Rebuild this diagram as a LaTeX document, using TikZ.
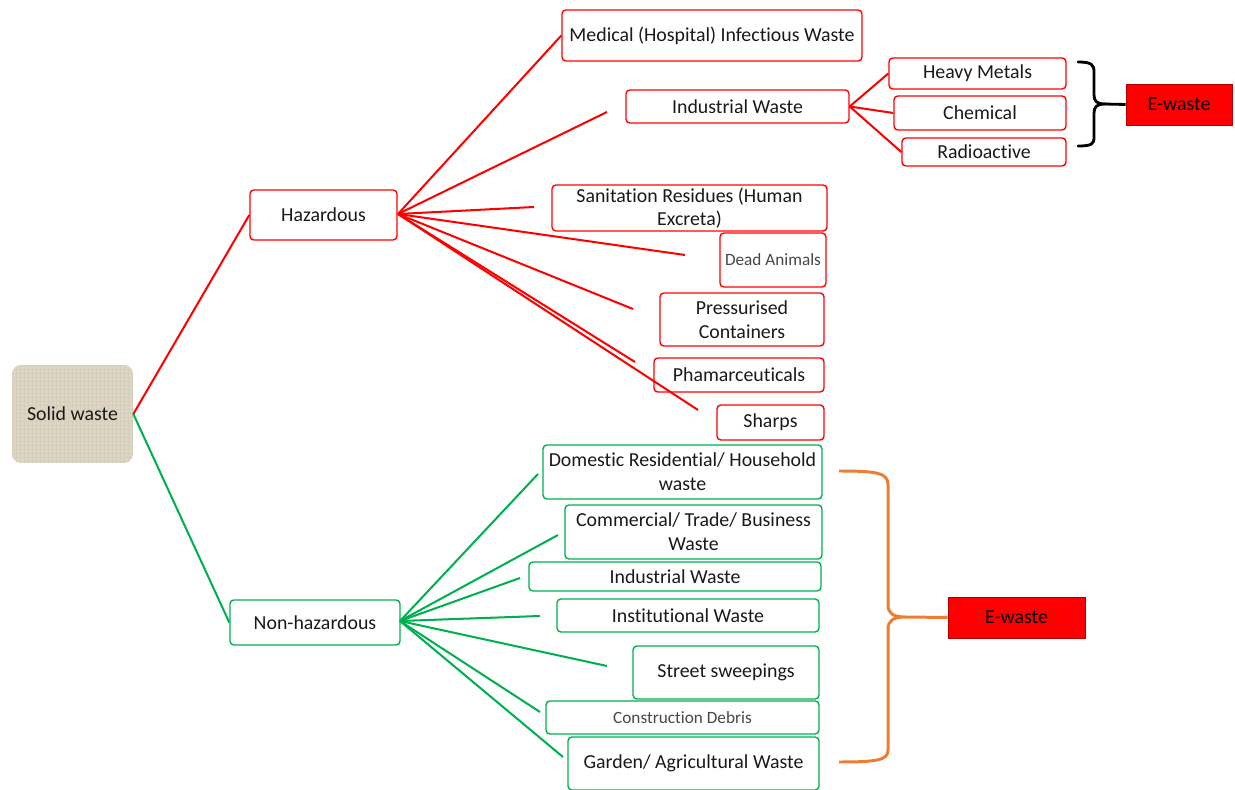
\documentclass[tikz,border=0pt]{standalone}
\usepackage{fontspec}
\setmainfont{Carlito}[Ligatures=NoCommon]
\definecolor{hred}{HTML}{FF0000}
\definecolor{ngreen}{HTML}{00B050}
\definecolor{borange}{HTML}{ED7D31}
\definecolor{beige}{HTML}{DDD6C5}
\definecolor{beigedark}{HTML}{CFC7B2}
\definecolor{txt}{HTML}{1A1A1A}
\begin{document}
\begin{tikzpicture}[x=0.02cm,y=-0.02cm,
  every node/.style={font=\fontsize{11.3}{13.5}\selectfont, text=txt, inner sep=1pt, align=center},
  box/.style={draw, rounded corners=2.2pt, line width=0.8pt, fill=white},
  hbox/.style={box, draw=hred},
  gbox/.style={box, draw=ngreen},
  small/.style={font=\fontsize{9.8}{12}\selectfont, text=black!72},
  ebox/.style={draw=hred!70!black, line width=0.4pt, fill=hred, text=black},
  hline/.style={draw=hred, line width=1.15pt},
  gline/.style={draw=ngreen, line width=1.15pt},
  bline/.style={draw=black, line width=1.6pt},
  oline/.style={draw=borange, line width=1.7pt},
  texture/.style={path picture={
     \foreach \i in {0,4,...,130} {
       \draw[beigedark, line width=0.3pt, opacity=0.45]
         ([xshift=\i*0.02cm]path picture bounding box.north west) -- ++(0,-2.2cm);
       \draw[beigedark, line width=0.3pt, opacity=0.45]
         ([yshift=-\i*0.02cm]path picture bounding box.north west) -- ++(2.6cm,0);
     }}}
]
\useasboundingbox (0,0) rectangle (1235,790);

% root
\node[fill=beige, texture, rounded corners=5pt, minimum width=2.42cm, minimum height=1.96cm] (solid) at (72.5,414) {Solid waste};
\node[hbox, minimum width=2.94cm, minimum height=1.0cm] (haz) at (323.5,215) {Hazardous};
\node[gbox, minimum width=3.4cm, minimum height=0.9cm] (nonhaz) at (315,622.5) {Non-hazardous};

% hazardous children
\node[hbox, minimum width=6.0cm, minimum height=1.02cm] (med) at (712,35.5) {Medical (Hospital) Infectious Waste};
\node[hbox, minimum width=4.46cm, minimum height=0.66cm] (indR) at (737.5,106.5) {Industrial Waste};
\node[hbox, minimum width=3.54cm, minimum height=0.62cm] (heavy) at (977.5,73.5) {Heavy Metals};
\node[hbox, minimum width=3.44cm, minimum height=0.68cm] (chem) at (980,113) {Chemical};
\node[hbox, minimum width=3.28cm, minimum height=0.56cm] (radio) at (984,152) {Radioactive};
\node[ebox, minimum width=2.12cm, minimum height=0.82cm] (ew1) at (1179,104.5) {E-waste};
\node[hbox, minimum width=5.5cm, minimum height=0.92cm] (sanit) at (689.5,208) {Sanitation Residues (Human\\Excreta)};
\node[hbox, small, minimum width=2.12cm, minimum height=1.08cm] (dead) at (773,260) {Dead Animals};
\node[hbox, minimum width=3.28cm, minimum height=1.06cm] (press) at (742,319.5) {Pressurised\\Containers};
\node[hbox, minimum width=3.4cm, minimum height=0.68cm] (pharma) at (739,375) {Phamarceuticals};
\node[hbox, minimum width=2.14cm, minimum height=0.7cm] (sharps) at (770.5,422.5) {Sharps};

% non-hazardous children
\node[gbox, minimum width=5.58cm, minimum height=1.08cm] (dom) at (682.5,472) {Domestic Residential/ Household\\waste};
\node[gbox, minimum width=5.14cm, minimum height=1.08cm] (com) at (693.5,532) {Commercial/ Trade/ Business\\Waste};
\node[gbox, minimum width=5.84cm, minimum height=0.58cm] (indG) at (675,576.5) {Industrial Waste};
\node[gbox, minimum width=5.24cm, minimum height=0.66cm] (inst) at (688,615.5) {Institutional Waste};
\node[gbox, minimum width=3.72cm, minimum height=1.06cm] (street) at (726,672.5) {Street sweepings};
\node[gbox, small, minimum width=5.46cm, minimum height=0.66cm] (constr) at (682.5,717.5) {Construction Debris};
\node[gbox, minimum width=5.02cm, minimum height=1.06cm] (garden) at (693.5,763.5) {Garden/ Agricultural Waste};
\node[ebox, minimum width=2.74cm, minimum height=0.82cm] (ew2) at (1016.5,617.5) {E-waste};

% free line ends
\coordinate (hIndR) at (607,112);
\coordinate (hSan) at (534,207);
\coordinate (hDead) at (685,255);
\coordinate (hPress) at (633,309);
\coordinate (hPharma) at (635,362);
\coordinate (hSharps) at (698,410);
\coordinate (nDom) at (538,474);
\coordinate (nCom) at (558,535);
\coordinate (nInd) at (520,578);
\coordinate (nInst) at (540,616);
\coordinate (nStreet) at (607,666);
\coordinate (nConstr) at (540,712);
\coordinate (nGarden) at (563,757);
\coordinate (hFan) at (398,214);
\coordinate (nFan) at (400,621);

% root connectors
\draw[hline] (solid.east) -- (haz.west);
\draw[gline] (solid.east) -- (nonhaz.west);

% hazardous fan
\draw[hline] (hFan) -- (med.west);
\draw[hline] (hFan) -- (hIndR);
\draw[hline] (hFan) -- (hSan);
\draw[hline] (hFan) -- (hDead);
\draw[hline] (hFan) -- (hPress);
\draw[hline] (hFan) -- (hPharma);
\draw[hline] (hFan) -- (hSharps);

% industrial sub-fan
\draw[hline] (indR.east) -- (heavy.west);
\draw[hline] (indR.east) -- (chem.west);
\draw[hline] (indR.east) -- (radio.west);

% non-hazardous fan
\draw[gline] (nFan) -- (nDom);
\draw[gline] (nFan) -- (nCom);
\draw[gline] (nFan) -- (nInd);
\draw[gline] (nFan) -- (nInst);
\draw[gline] (nFan) -- (nStreet);
\draw[gline] (nFan) -- (nConstr);
\draw[gline] (nFan) -- (nGarden);

% black bracket
\coordinate (bTop) at (1078,62);
\coordinate (bBot) at (1078,146);
\coordinate (bTip) at (1104,104);
\draw[bline, line cap=round] (bTop) .. controls (1092,62) and (1094,65) .. (1094,72) -- (1094,95)
  .. controls (1094,101) and (1097,104) .. (bTip)
  .. controls (1097,104) and (1094,107) .. (1094,113) -- (1094,137)
  .. controls (1094,144) and (1092,146) .. (bBot);
\draw[bline] (bTip) -- (ew1.west);

% orange brace
\coordinate (oTop) at (839,471);
\coordinate (oBot) at (839,762);
\coordinate (oTip) at (905,617);
\draw[oline] (oTop) .. controls (878,471) and (888,473) .. (888,485) -- (888,605)
  .. controls (888,613) and (893,617) .. (oTip)
  .. controls (893,617) and (888,621) .. (888,629) -- (888,750)
  .. controls (888,760) and (878,762) .. (oBot);
\draw[oline] (oTip) -- (ew2.west);
\end{tikzpicture}
\end{document}
